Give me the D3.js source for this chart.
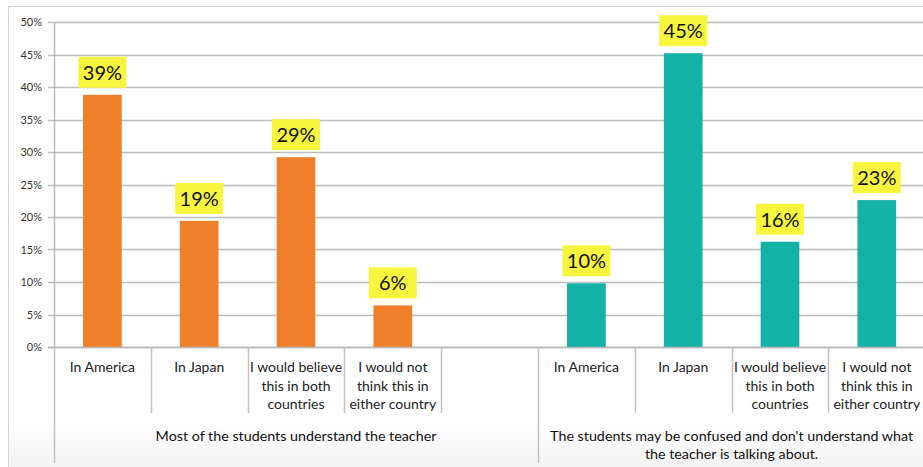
<!DOCTYPE html>
<html><head><meta charset="utf-8">
<script src="https://cdn.jsdelivr.net/npm/d3@7"></script>
<style>body{margin:0;background:#fff;}svg{display:block;font-family:Lato,"Open Sans",sans-serif;}</style>
</head><body><svg id="c" width="923" height="467"></svg>
<script>
const groups = ["Most of the students understand the teacher", "The students may be confused and don't understand what the teacher is talking about."];
const categories = ["In America", "In Japan", "I would believe this in both countries", "I would not think this in either country"];
const categoryLines = [["In America"], ["In Japan"], ["I would believe", "this in both", "countries"], ["I would not", "think this in", "either country"]];
const understandValues = [38.8, 19.4, 29.2, 6.4];
const confusedValues = [9.8, 45.2, 16.2, 22.6];
const yTicks = [0, 5, 10, 15, 20, 25, 30, 35, 40, 45, 50];
const groupColors = ["#f07f2a", "#14b1a6"];

(function () {
const svg = d3.select("#c");
const mLeft = 54, mTop = 22, mBottom = 347, slotCount = 9;
const slotW = 96.8;
const mRight = mLeft + slotW * slotCount;

const slots = [];
categories.forEach((c, i) => slots.push("g0-" + i));
slots.push("g0-empty");
categories.forEach((c, i) => slots.push("g1-" + i));

const x = d3.scaleBand().domain(slots).range([mLeft, mRight]).paddingInner(0).paddingOuter(0);
const y = d3.scaleLinear().domain([0, 50]).range([mBottom, mTop]);

// outer frame
svg.append("rect").attr("x", 8.5).attr("y", 6.5).attr("width", 930).attr("height", 470)
  .attr("fill", "none").attr("stroke", "#d4d4d4").attr("stroke-width", 1);

// bottom faint shading
const grad = svg.append("defs").append("linearGradient").attr("id", "bg").attr("x1", 0).attr("y1", 0).attr("x2", 0).attr("y2", 1);
grad.append("stop").attr("offset", "0").attr("stop-color", "#ffffff");
grad.append("stop").attr("offset", "1").attr("stop-color", "#f3f3f3");
svg.append("rect").attr("x", 9).attr("y", 420).attr("width", 914).attr("height", 47).attr("fill", "url(#bg)");

// gridlines
svg.append("g").selectAll("line").data(yTicks).join("line")
  .attr("x1", mLeft - 6).attr("x2", 923)
  .attr("y1", d => Math.round(y(d)) + 0.5).attr("y2", d => Math.round(y(d)) + 0.5)
  .attr("stroke", "#bcbcbc").attr("stroke-width", 1.5);

// y axis
const yAxis = d3.axisLeft(y).tickValues(yTicks).tickFormat(d => d + "%").tickSize(0).tickPadding(12);
const ya = svg.append("g").attr("transform", `translate(${mLeft},0)`).call(yAxis);
ya.select(".domain").attr("stroke", "#b8b8b8").attr("stroke-width", 1.5);
ya.selectAll("text").attr("font-size", 11).attr("fill", "#333").attr("font-family", "Lato, sans-serif");

// bars
const data = [];
understandValues.forEach((v, i) => data.push({key: "g0-" + i, v, g: 0}));
confusedValues.forEach((v, i) => data.push({key: "g1-" + i, v, g: 1}));
const bw = x.bandwidth() * 0.4;
svg.append("g").selectAll("rect").data(data).join("rect")
  .attr("x", d => x(d.key) + (x.bandwidth() - bw) / 2)
  .attr("width", bw)
  .attr("y", d => y(d.v)).attr("height", d => y(0) - y(d.v))
  .attr("fill", d => groupColors[d.g]);

// value labels
const lab = svg.append("g").selectAll("g").data(data).join("g")
  .attr("transform", d => `translate(${x(d.key) + x.bandwidth() / 2},${y(d.v) - 7})`);
lab.append("rect").attr("x", -24).attr("y", -31).attr("width", 48).attr("height", 31).attr("fill", "#f8f53f");
lab.append("text").attr("text-anchor", "middle").attr("y", -8).attr("font-size", 20)
  .attr("font-family", "Lato, 'Open Sans', sans-serif").attr("fill", "#111")
  .text(d => Math.round(d.v) + "%");

// x axis line
svg.append("line").attr("x1", mLeft - 6).attr("x2", 923).attr("y1", mBottom + 0.5).attr("y2", mBottom + 0.5)
  .attr("stroke", "#b8b8b8").attr("stroke-width", 1.5);

// category separators
const seps = slots.map(s => x(s)).concat([mRight]);
svg.append("g").selectAll("line").data(seps).join("line")
  .attr("x1", d => Math.round(d) + 0.5).attr("x2", d => Math.round(d) + 0.5)
  .attr("y1", mBottom).attr("y2", (d, i) => (i === 0 || i === 5) ? 463 : 413)
  .attr("stroke", "#c2c2c2").attr("stroke-width", 1.5);

// category labels
const catG = svg.append("g").selectAll("text").data(slots.filter(s => s !== "g0-empty")).join("text")
  .attr("text-anchor", "middle").attr("font-size", 14).attr("fill", "#222")
  .attr("x", d => x(d) + x.bandwidth() / 2).attr("y", 372);
catG.selectAll("tspan").data(d => categoryLines[+d.split("-")[1]]).join("tspan")
  .attr("x", function () { return d3.select(this.parentNode).attr("x"); })
  .attr("dy", (d, i) => i === 0 ? 0 : 18.5).text(d => d);

// group labels
svg.append("text").attr("text-anchor", "middle").attr("font-size", 14.3).attr("fill", "#111")
  .attr("x", (mLeft + x("g1-0")) / 2).attr("y", 441).text(groups[0]);
const cx2 = (x("g1-0") + mRight) / 2;
const gl2 = svg.append("text").attr("text-anchor", "middle").attr("font-size", 14.3).attr("fill", "#111")
  .attr("x", cx2).attr("y", 441);
gl2.append("tspan").attr("x", cx2).attr("dy", 0).text("The students may be confused and don't understand what");
gl2.append("tspan").attr("x", cx2).attr("dy", 18).text("the teacher is talking about.");
})();
</script></body></html>
